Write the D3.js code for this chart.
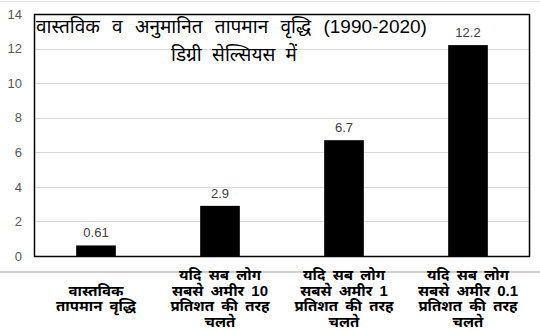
<!DOCTYPE html>
<html><head><meta charset="utf-8">
<script src="https://cdn.jsdelivr.net/npm/d3@7"></script>
<style>
html,body{margin:0;padding:0;background:#fff;}
svg{display:block;}
</style></head>
<body>
<script>
const categories = [
  ["वास्तविक", "तापमान वृद्धि"],
  ["यदि सब लोग", "सबसे अमीर 10", "प्रतिशत की तरह", "चलते"],
  ["यदि सब लोग", "सबसे अमीर 1", "प्रतिशत की तरह", "चलते"],
  ["यदि सब लोग", "सबसे अमीर 0.1", "प्रतिशत की तरह", "चलते"]
];
const values = [0.61, 2.9, 6.7, 12.2];
const valueLabels = ["0.61", "2.9", "6.7", "12.2"];
const yTicks = [0, 2, 4, 6, 8, 10, 12, 14];
const titleLines = ["वास्तविक व अनुमानित तापमान वृद्धि (1990-2020)", "डिग्री सेल्सियस में"];

const W = 540, H = 331;
const m = {left: 34, right: 10, top: 14, bottom: 75};
const svg = d3.select("body").append("svg").attr("width", W).attr("height", H);
const font = "Arial, 'Liberation Sans', 'Noto Sans', sans-serif";

const x = d3.scaleBand().domain(d3.range(categories.length))
  .range([m.left, W - m.right]).paddingInner(0.68).paddingOuter(0.34);
const y = d3.scaleLinear().domain([0, 14]).range([H - m.bottom, m.top]);

// top faint line
svg.append("line").attr("x1", 0).attr("x2", W).attr("y1", 1.5).attr("y2", 1.5)
  .attr("stroke", "#e6e6e6").attr("stroke-width", 1);

// gridlines
svg.append("g").selectAll("line").data(yTicks).join("line")
  .attr("x1", m.left).attr("x2", W - m.right)
  .attr("y1", d => Math.round(y(d)) + 0.5).attr("y2", d => Math.round(y(d)) + 0.5)
  .attr("stroke", "#d9d9d9").attr("stroke-width", 1);

// y axis labels
const yAxis = d3.axisLeft(y).tickValues(yTicks).tickSize(0).tickPadding(0);
const yg = svg.append("g").attr("transform", `translate(${m.left - 12},0)`).call(yAxis);
yg.select(".domain").remove();
yg.selectAll("text").attr("font-family", font).attr("font-size", 13).attr("fill", "#595959");

// bars
svg.append("g").selectAll("rect").data(values).join("rect")
  .attr("x", (d, i) => x(i)).attr("width", x.bandwidth())
  .attr("y", d => y(d)).attr("height", d => y(0) - y(d))
  .attr("fill", "#000");

// value labels
svg.append("g").selectAll("text").data(values).join("text")
  .attr("x", (d, i) => x(i) + x.bandwidth() / 2)
  .attr("y", d => y(d) - 8)
  .attr("text-anchor", "middle")
  .attr("font-family", font).attr("font-size", 13).attr("fill", "#404040")
  .text((d, i) => valueLabels[i]);

// plot border
svg.append("rect").attr("x", m.left + 0.5).attr("y", Math.round(y(14)) + 0.5)
  .attr("width", W - m.right - m.left - 1).attr("height", Math.round(y(0)) - Math.round(y(14)))
  .attr("fill", "none").attr("stroke", "#000").attr("stroke-width", 1.5);

// title
const tg = svg.append("g");
tg.append("text").attr("x", m.left + 2).attr("y", 33)
  .attr("font-family", font).attr("font-size", 19).attr("word-spacing", 7).attr("fill", "#000").text(titleLines[0]);
tg.append("text").attr("x", 234).attr("y", 61).attr("text-anchor", "middle")
  .attr("font-family", font).attr("font-size", 19).attr("word-spacing", 5).attr("fill", "#000").text(titleLines[1]);

// bottom separator
svg.append("line").attr("x1", 0).attr("x2", W).attr("y1", 272).attr("y2", 272)
  .attr("stroke", "#d0d0d0").attr("stroke-width", 2);

// category labels
const lh = 15.5;
const cg = svg.append("g").selectAll("text").data(categories).join("text")
  .attr("text-anchor", "middle")
  .attr("font-family", font).attr("font-size", 15).attr("font-weight", "bold")
  .attr("word-spacing", 3).attr("fill", "#000");
cg.each(function(lines, i) {
  const cx = x(i) + x.bandwidth() / 2;
  const y0 = 303.5 - (lines.length - 1) * lh / 2;
  d3.select(this).selectAll("tspan").data(lines).join("tspan")
    .attr("x", cx).attr("y", (d, k) => y0 + k * lh).text(d => d);
});
</script>
</body></html>
